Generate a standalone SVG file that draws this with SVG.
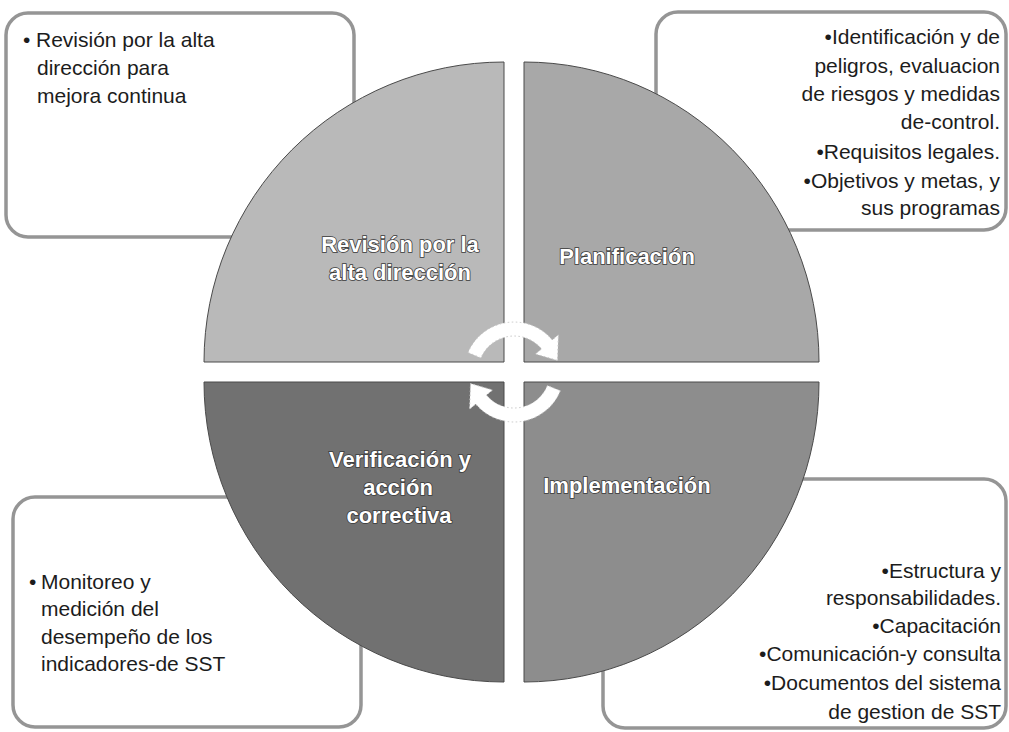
<svg xmlns="http://www.w3.org/2000/svg" width="1009" height="732" viewBox="0 0 1009 732">
  <style>
    .box { fill: #ffffff; stroke: #959595; stroke-width: 3.5; }
    .btxt { font-family: "Liberation Sans", Arial, sans-serif; font-size: 21px; fill: #1c1c1c; }
    .end { text-anchor: end; }
    .quad { stroke: #4a4a4a; stroke-width: 1; }
    .lbl { font-family: "Liberation Sans", Arial, sans-serif; font-weight: bold; font-size: 22px; fill: #ffffff; stroke: #3a3a3a; stroke-width: 1.6; paint-order: stroke; text-anchor: middle; }
    .cyc { fill: #ffffff; stroke: #c8c8c8; stroke-width: 1; stroke-dasharray: 1.5 2.5; }
  </style>

  <rect width="1009" height="732" fill="#ffffff"/>

  <!-- Boxes (behind the circle) -->
  <g id="box-revision">
    <rect class="box" x="6" y="13" width="348" height="224" rx="22" ry="22"/>
    <text class="btxt" x="23" y="47">•</text>
    <text class="btxt" x="36" y="47">Revisión por la alta</text>
    <text class="btxt" x="37" y="75">dirección para</text>
    <text class="btxt" x="37" y="103">mejora continua</text>
  </g>

  <g id="box-planificacion">
    <rect class="box" x="656" y="12" width="350" height="218" rx="22" ry="22"/>
    <text class="btxt end" x="1000" y="44">•Identificación y de</text>
    <text class="btxt end" x="1000" y="73">peligros, evaluacion</text>
    <text class="btxt end" x="1000" y="101">de riesgos y medidas</text>
    <text class="btxt end" x="1000" y="129">de-control.</text>
    <text class="btxt end" x="1000" y="159">•Requisitos legales.</text>
    <text class="btxt end" x="1000" y="188">•Objetivos y metas, y</text>
    <text class="btxt end" x="1000" y="215">sus programas</text>
  </g>

  <g id="box-verificacion">
    <rect class="box" x="13" y="497" width="348" height="230" rx="22" ry="22"/>
    <text class="btxt" x="29" y="589">•</text>
    <text class="btxt" x="41" y="589">Monitoreo y</text>
    <text class="btxt" x="41" y="616">medición del</text>
    <text class="btxt" x="41" y="644">desempeño de los</text>
    <text class="btxt" x="41" y="671">indicadores-de SST</text>
  </g>

  <g id="box-implementacion">
    <rect class="box" x="603" y="479" width="403" height="249" rx="22" ry="22"/>
    <text class="btxt end" x="1001" y="578">•Estructura y</text>
    <text class="btxt end" x="1001" y="605">responsabilidades.</text>
    <text class="btxt end" x="1001" y="633">•Capacitación</text>
    <text class="btxt end" x="1001" y="661">•Comunicación-y consulta</text>
    <text class="btxt end" x="1001" y="690">•Documentos del sistema</text>
    <text class="btxt end" x="1001" y="719">de gestion de SST</text>
  </g>

  <!-- Circle quadrants -->
  <g id="quad-revision">
    <path class="quad" d="M504,362 L504,62 A300,300 0 0 0 204,362 Z" fill="#b9b9b9"/>
    <text class="lbl" x="400" y="252">Revisión por la</text>
    <text class="lbl" x="400" y="280">alta dirección</text>
  </g>

  <g id="quad-planificacion">
    <path class="quad" d="M524,362 L524,62 A295,300 0 0 1 819,362 Z" fill="#a8a8a8"/>
    <text class="lbl" x="627" y="264">Planificación</text>
  </g>

  <g id="quad-verificacion">
    <path class="quad" d="M504,382 L204,382 A300,300 0 0 0 504,682 Z" fill="#717171"/>
    <text class="lbl" x="400" y="467">Verificación y</text>
    <text class="lbl" x="398" y="495">acción</text>
    <text class="lbl" x="399" y="523">correctiva</text>
  </g>

  <g id="quad-implementacion">
    <path class="quad" d="M524,382 L524,682 A295,300 0 0 0 819,382 Z" fill="#8d8d8d"/>
    <text class="lbl" x="627" y="493">Implementación</text>
  </g>

  <!-- Cycle arrows -->
  <g id="connectors">
    <path class="cyc" d="M468.0,352.5 A50,50 0 0 1 552.3,339.9 L558.4,334.7 L557.5,360.4 L535.4,354.0 L541.6,348.9 A36,36 0 0 0 480.9,357.9 Z"/>
    <path class="cyc" d="M560.4,390.7 A50,50 0 0 1 475.7,404.1 L469.6,409.3 L470.5,383.6 L492.6,390.0 L486.4,395.1 A36,36 0 0 0 547.4,385.5 Z"/>
  </g>
</svg>
